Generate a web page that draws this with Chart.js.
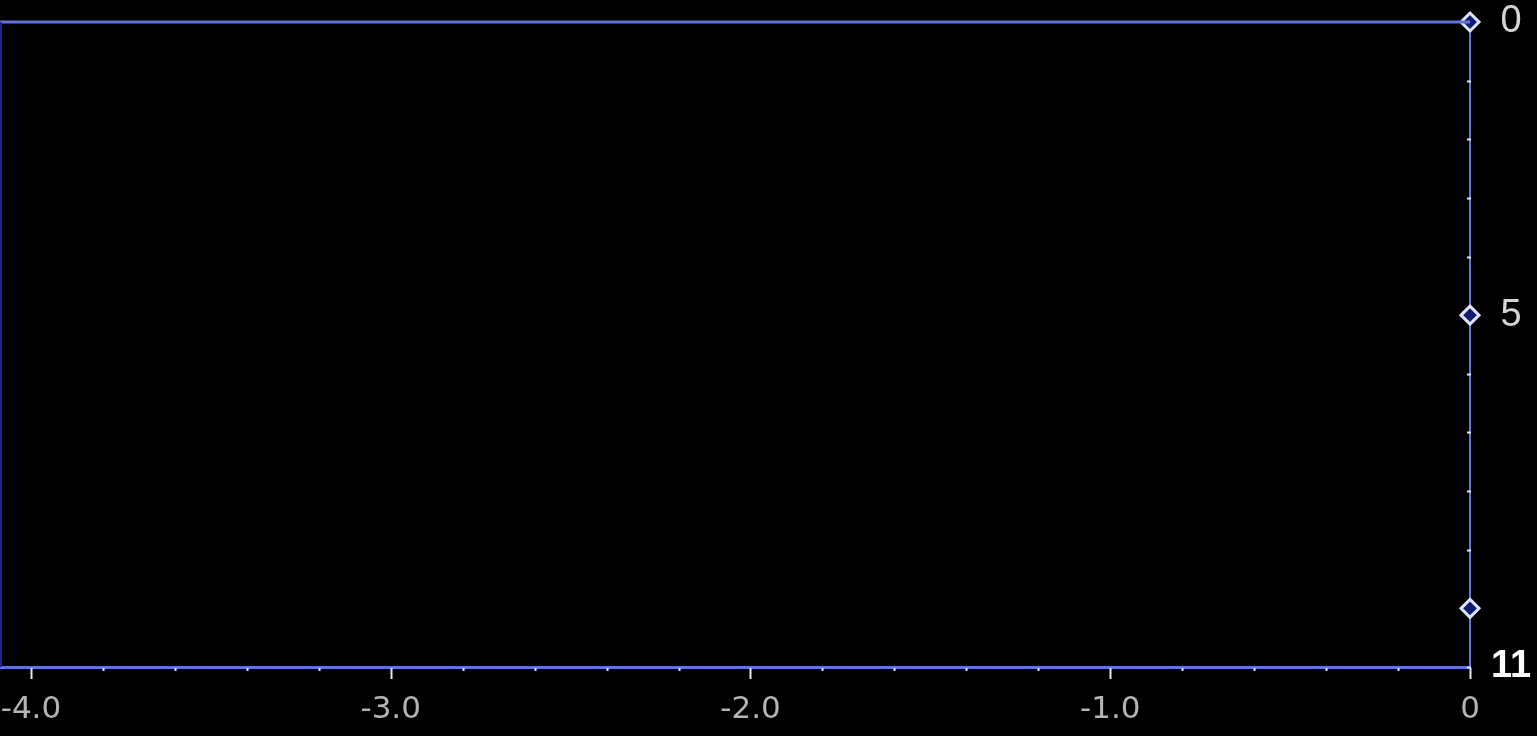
<!DOCTYPE html>
<html>
<head>
<meta charset="utf-8">
<script src="https://cdn.jsdelivr.net/npm/chart.js@4.4.1/dist/chart.umd.min.js"></script>
<style>
html,body{margin:0;padding:0;background:#000;overflow:hidden;}
#wrap{width:1537px;height:736px;position:relative;}
</style>
</head>
<body>
<div id="wrap"><canvas id="c" width="1537" height="736"></canvas></div>
<script>
// Data
const markerX = [0, 0, 0];
const markerY = [0, 5, 10];
const xMajorTicks = [-4, -3, -2, -1, 0];
const xTickLabels = ["-4.0", "-3.0", "-2.0", "-1.0", "0"];
const yTickValues = [0, 5, 11];
const yTickLabels = ["0", "5", "11"];
const xMinorStep = 0.2;
const yMinorStep = 1;

const AXIS_BLUE = '#6474d4';

const tickPlugin = {
  id: 'tickPlugin',
  afterDraw(chart) {
    const ctx = chart.ctx;
    const xs = chart.scales.x, ys = chart.scales.y;
    const ca = chart.chartArea;
    ctx.save();
    // top and left frame
    ctx.strokeStyle = AXIS_BLUE;
    ctx.lineWidth = 3;
    ctx.beginPath();
    ctx.moveTo(0, ca.top); ctx.lineTo(ca.right, ca.top);
    ctx.stroke();
    ctx.strokeStyle = '#1a2a90';
    ctx.lineWidth = 2;
    ctx.beginPath();
    ctx.moveTo(1, ca.top); ctx.lineTo(1, ca.bottom);
    ctx.stroke();
    // x ticks
    ctx.strokeStyle = '#e8e8f0';
    for (let i = -20; i <= 0; i++) {
      const v = i * xMinorStep;
      const px = Math.round(xs.getPixelForValue(v)) + 0.5;
      const major = (i % 5 === 0);
      ctx.lineWidth = 2;
      ctx.beginPath();
      ctx.moveTo(px, ca.bottom + 1);
      ctx.lineTo(px, ca.bottom + (major ? 12 : 4));
      ctx.stroke();
    }
    // y minor ticks
    for (let v = 0; v <= 11; v += yMinorStep) {
      if (v === 0 || v === 5 || v === 10) continue;
      const py = Math.round(ys.getPixelForValue(v)) + 0.5;
      ctx.fillStyle = '#e8e8f0';
      ctx.fillRect(ca.right - 3, py - 1, 4, 2);
    }
    ctx.restore();
  }
};

new Chart(document.getElementById('c'), {
  type: 'scatter',
  data: {
    datasets: [{
      data: markerX.map((x, i) => ({x: x, y: markerY[i]})),
      pointStyle: 'rectRot',
      pointRadius: 9,
      pointBorderWidth: 3,
      pointBorderColor: '#dde2ff',
      pointBackgroundColor: '#101c70',
      showLine: false,
      clip: false
    }]
  },
  plugins: [tickPlugin],
  options: {
    responsive: false,
    animation: false,
    events: [],
    layout: {autoPadding: false, padding: {top: 22, left: 0, right: 0, bottom: 0}},
    plugins: {legend: {display: false}, tooltip: {enabled: false}, title: {display: false}},
    scales: {
      x: {
        type: 'linear',
        min: -4.086,
        max: 0,
        afterBuildTicks: (s) => { s.ticks = xMajorTicks.map(v => ({value: v})); },
        afterFit: (s) => { s.height = 69; s.paddingLeft = 0; s.paddingRight = 0; },
        grid: {drawOnChartArea: false, drawTicks: false},
        border: {display: true, color: AXIS_BLUE, width: 3},
        ticks: {
          autoSkip: false,
          maxRotation: 0,
          padding: 24,
          color: '#b4b4b4',
          font: {family: 'DejaVu Sans', size: 31},
          callback: (v) => { const i = xMajorTicks.indexOf(v); return i >= 0 ? xTickLabels[i] : ''; }
        }
      },
      y: {
        type: 'linear',
        position: 'right',
        reverse: true,
        min: 0,
        max: 11,
        afterBuildTicks: (s) => { s.ticks = yTickValues.map(v => ({value: v})); },
        afterFit: (s) => { s.width = 67; s.paddingTop = 0; s.paddingBottom = 0; },
        grid: {drawOnChartArea: false, drawTicks: false},
        border: {display: true, color: AXIS_BLUE, width: 2},
        ticks: {
          autoSkip: false,
          crossAlign: 'center',
          padding: 21,
          color: (c) => c.index === 2 ? '#ffffff' : '#d4d4d4',
          font: (c) => ({family: 'Liberation Sans', size: 38, weight: c.index === 2 ? 'bold' : 'normal'}),
          callback: (v) => { const i = yTickValues.indexOf(v); return i >= 0 ? yTickLabels[i] : ''; }
        }
      }
    }
  }
});
</script>
</body>
</html>
